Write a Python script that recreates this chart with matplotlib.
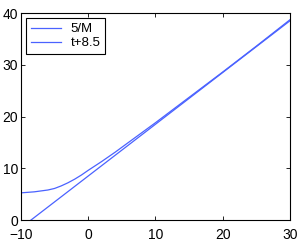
import matplotlib
matplotlib.use('Agg')
import matplotlib.pyplot as plt
import numpy as np

plt.rcParams['font.family'] = ['Liberation Sans', 'DejaVu Sans']

# values
t_curve = [-10, -8, -6, -5, -4, -3, -2, -1, 0, 1, 2, 4, 6, 8, 10, 15, 20, 25, 30]
m_curve = [5.25, 5.45, 5.8, 6.1, 6.6, 7.2, 7.9, 8.7, 9.6, 10.45, 11.3, 13.1, 15.0, 16.9, 18.8, 23.7, 28.6, 33.6, 38.7]

t_line = [-8.5, 30]
line_vals = [0, 38.5]

x_ticks = [-10, 0, 10, 20, 30]
y_ticks = [0, 10, 20, 30, 40]

blue = '#4a62ff'

fig = plt.figure(figsize=(3.03, 2.41), dpi=100)
ax = fig.add_axes([0.069, 0.087, 0.888, 0.859])

ax.plot(t_curve, m_curve, color=blue, lw=0.9, label='5/M')
ax.plot(t_line, line_vals, color=blue, lw=0.9, label='t+8.5')

ax.set_xlim(-10, 30)
ax.set_ylim(0, 40)
ax.set_xticks(x_ticks)
ax.set_yticks(y_ticks)
ax.tick_params(direction='in', length=3, width=0.6, labelsize=10, pad=2,
               top=True, right=True)
ax.tick_params(axis='x', pad=5.5)
ax.set_xticklabels(['\u221210', '0', '10', '20', '30'])
for lbl in ax.get_yticklabels():
    lbl.set_verticalalignment('center_baseline')
for s in ax.spines.values():
    s.set_linewidth(0.8)

leg = ax.legend(loc='upper left', fontsize=9.5, fancybox=False, framealpha=1,
                edgecolor='black', borderpad=0.35, handlelength=2.3,
                labelspacing=0.15, borderaxespad=0.4, handletextpad=0.7)
leg.get_frame().set_linewidth(0.8)

fig.savefig('out.png', dpi=100)
